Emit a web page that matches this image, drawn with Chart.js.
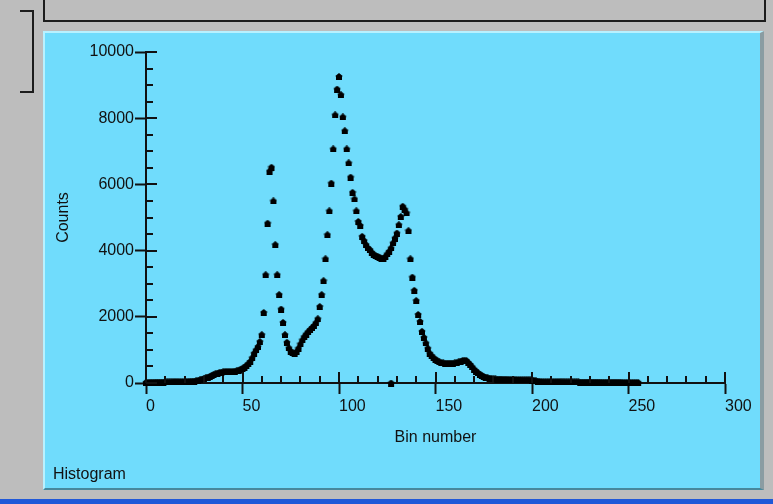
<!DOCTYPE html>
<html>
<head>
<meta charset="utf-8">
<script src="https://cdn.jsdelivr.net/npm/chart.js@4.4.0/dist/chart.umd.min.js"></script>
<style>
  html, body { margin: 0; padding: 0; }
  body { width: 773px; height: 504px; background: #bdbdbd; position: relative; overflow: hidden; font-family: "Liberation Sans", Arial, sans-serif; }
  .top-panel { position: absolute; left: 43px; top: -3px; width: 723px; height: 25px; box-sizing: border-box; border: 2px solid #1c1c1c; background: #bdbdbd; }
  .side-box { position: absolute; left: 20px; top: 10px; width: 14px; height: 83px; box-sizing: border-box; border: 2px solid #1c1c1c; border-left: none; }
  .panel { position: absolute; left: 43px; top: 31px; width: 721px; height: 459px; box-sizing: border-box; background: #70dcfc;
           border-left: 2px solid #b8f1ff; border-top: 2px solid #b8f1ff; border-right: 4px solid #8a9ca2; border-bottom: 2px solid #47889c; }
  .bar { position: absolute; left: 0; top: 499px; width: 773px; height: 5px; background: #1f58d8; }
  #chart { position: absolute; left: 44px; top: 32px; }
  .caption { position: absolute; left: 53px; top: 466px; font-size: 16px; line-height: 16px; color: #111; }
</style>
</head>
<body>
<div class="top-panel"></div>
<div class="side-box"></div>
<div class="panel"></div>
<div class="bar"></div>
<canvas id="chart" width="716" height="456"></canvas>
<div class="caption">Histogram</div>
<script>
// histogram counts, one per bin starting at bin 0
const firstBin = 0;
const counts = [
  20, 20, 25, 25, 25, 30, 30, 30, 30, 30,
  35, 35, 35, 35, 40, 40, 40, 40, 45, 45,
  45, 50, 50, 55, 55, 60, 70, 80, 100, 120,
  140, 160, 180, 200, 230, 260, 280, 300, 320, 330,
  340, 350, 350, 350, 350, 350, 360, 370, 390, 420,
  440, 480, 530, 580, 650, 760, 900, 1000, 1100, 1250,
  1460, 2130, 3270, 4830, 6400, 6520, 5500, 4180, 3270, 2670,
  2235, 1830, 1460, 1230, 1060, 960, 910, 890, 950, 1050,
  1180, 1300, 1400, 1480, 1550, 1610, 1670, 1730, 1820, 1940,
  2310, 2670, 3090, 3750, 4480, 5200, 6040, 7070, 8100, 8880,
  9260, 8710, 8040, 7620, 7070, 6650, 6220, 5760, 5560, 5200,
  4880, 4760, 4430, 4300, 4180, 4080, 4030, 3950, 3880, 3850,
  3830, 3800, 3770, 3750, 3820, 3900, 3980, 4080, 4230, 4380,
  4530, 4780, 5030, 5340, 5250, 5140, 4600, 3750, 3200, 2800,
  2490, 2070, 1860, 1560, 1380, 1210, 1050, 900, 820, 760,
  710, 670, 640, 620, 610, 600, 600, 600, 600, 600,
  610, 620, 640, 660, 680, 690, 680, 620, 560, 490,
  420, 360, 310, 270, 230, 200, 180, 160, 150, 140,
  130, 125, 120, 120, 120, 115, 115, 115, 110, 110,
  110, 110, 105, 105, 105, 100, 100, 100, 100, 95,
  90, 80, 70, 60, 50, 45, 40, 40, 40, 40,
  40, 40, 40, 40, 40, 35, 35, 35, 35, 35,
  35, 35, 35, 35, 35, 30, 30, 30, 30, 30,
  30, 30, 30, 30, 30, 30, 25, 25, 25, 25,
  25, 25, 25, 25, 25, 25, 25, 20, 20, 20,
  20, 20, 20, 20, 20, 20
];
// the lone marker sitting on the axis
const strayBins = [127];
const strayCounts = [0];

const xMin = 0, xMax = 300, xMajor = 50, xMinor = 10;
const yMin = 0, yMax = 10000, yMajor = 2000, yMinor = 500;

const ink = '#111';

// little house shaped marker
const marker = document.createElement('canvas');
marker.width = 8; marker.height = 7;
(function () {
  const c = marker.getContext('2d');
  c.fillStyle = '#000';
  c.beginPath();
  c.moveTo(4, 0);
  c.lineTo(8, 3.2);
  c.lineTo(7, 3.2);
  c.lineTo(7, 7);
  c.lineTo(1, 7);
  c.lineTo(1, 3.2);
  c.lineTo(0, 3.2);
  c.closePath();
  c.fill();
})();

// inner half of the major ticks plus the minor ticks
const innerTicks = {
  id: 'innerTicks',
  afterDraw(chart) {
    const { ctx, chartArea, scales: { x, y } } = chart;
    ctx.save();
    ctx.strokeStyle = ink;
    ctx.lineWidth = 2;
    ctx.beginPath();
    for (let v = xMin; v <= xMax; v += xMinor) {
      const px = Math.round(x.getPixelForValue(v));
      const len = v % xMajor === 0 ? 11 : 7;
      ctx.moveTo(px, chartArea.bottom);
      ctx.lineTo(px, chartArea.bottom - len);
    }
    for (let v = yMin; v <= yMax; v += yMinor) {
      const py = Math.round(y.getPixelForValue(v));
      const len = v % yMajor === 0 ? 11 : 7;
      ctx.moveTo(chartArea.left, py);
      ctx.lineTo(chartArea.left + len, py);
    }
    ctx.stroke();
    ctx.restore();
  }
};

Chart.defaults.font.family = '"Liberation Sans", Arial, sans-serif';
Chart.defaults.font.size = 16;
Chart.defaults.color = ink;

const ctx = document.getElementById('chart').getContext('2d');
new Chart(ctx, {
  type: 'scatter',
  data: {
    datasets: [
      {
        label: 'Counts',
        data: counts.map((c, i) => ({ x: firstBin + i, y: c })),
        pointStyle: marker,
        pointRadius: 4,
        showLine: false,
        clip: false
      },
      {
        label: 'stray',
        data: strayBins.map((b, i) => ({ x: b, y: strayCounts[i] })),
        pointStyle: marker,
        pointRadius: 4,
        showLine: false,
        clip: false
      }
    ]
  },
  options: {
    responsive: false,
    animation: false,
    events: [],
    layout: { padding: { top: 20, right: 35, left: 0, bottom: 0 } },
    plugins: { legend: { display: false }, tooltip: { enabled: false } },
    scales: {
      x: {
        type: 'linear',
        min: xMin, max: xMax,
        ticks: { stepSize: xMajor, padding: 3, maxRotation: 0, align: 'start', callback: v => String(v) },
        grid: { drawOnChartArea: false, tickLength: 11, tickWidth: 2, tickColor: ink },
        border: { color: ink, width: 2 },
        title: { display: true, text: 'Bin number', padding: { top: 0, bottom: 41 } },
        afterFit(s) { s.height = 105; }
      },
      y: {
        min: yMin, max: yMax,
        ticks: { stepSize: yMajor, padding: 1, callback: v => String(v) },
        grid: { drawOnChartArea: false, tickLength: 11, tickWidth: 2, tickColor: ink },
        border: { color: ink, width: 2 },
        title: { display: true, text: 'Counts', padding: { top: 10, bottom: 0 } },
        afterFit(s) { s.width = 102; }
      }
    }
  },
  plugins: [innerTicks]
});
</script>
</body>
</html>
